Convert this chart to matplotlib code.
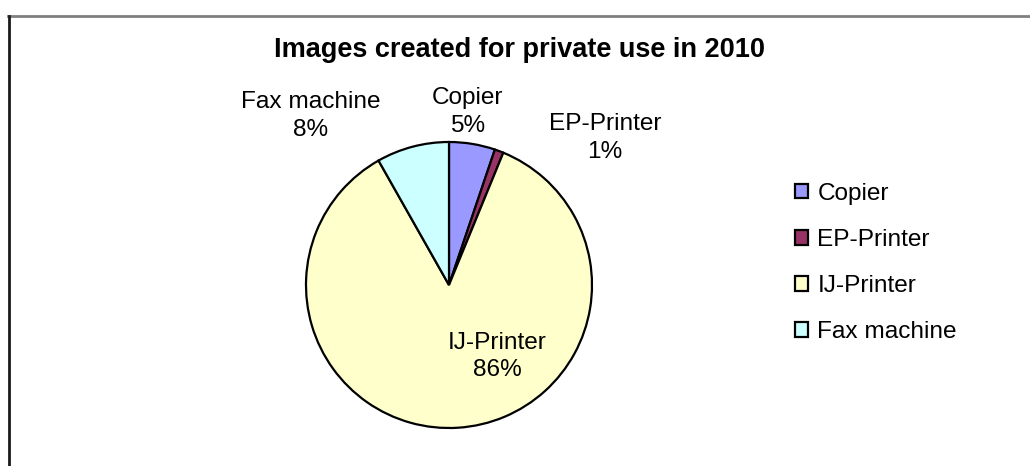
import matplotlib.pyplot as plt
from matplotlib.lines import Line2D

plt.rcParams['font.family'] = ['Liberation Sans', 'DejaVu Sans']

# data
categories = ['Copier', 'EP-Printer', 'IJ-Printer', 'Fax machine']
shares = [5.2, 1.0, 85.6, 8.2]
colors = ['#9999FF', '#993366', '#FFFFCC', '#CCFFFF']
title = 'Images created for private use in 2010'

# label spots (pie units, centre 0,0 radius 1), Excel-like placement
label_pos = [(0.13, 1.21), (1.09, 1.03), (0.34, -0.50), (-0.97, 1.18)]

W, H = 1030, 466
fig = plt.figure(figsize=(W / 100, H / 100), dpi=100)

# pie axes: centre at (449, 285) px, radius 143 px
cx, cy, r = 449, 285, 143
lim = 1.6
side = 2 * lim * r
ax = fig.add_axes([(cx - side / 2) / W, (H - cy - side / 2) / H, side / W, side / H])

wedges, _ = ax.pie(shares, colors=colors, startangle=90, counterclock=False,
                   wedgeprops=dict(edgecolor='black', linewidth=1.6))
ax.set_xlim(-lim, lim)
ax.set_ylim(-lim, lim)
ax.set_aspect('equal')
ax.axis('off')

total = sum(shares)
for name, val, (lx, ly) in zip(categories, shares, label_pos):
    ax.text(lx, ly, '%s\n%.0f%%' % (name, val / total * 100),
            ha='center', va='center', multialignment='center',
            fontsize=17.6, color='black', linespacing=1.35)

fig.text(520 / W, 1 - 57 / H, title, ha='center', va='baseline',
         fontsize=19.5, fontweight='bold')

fig.legend(wedges, categories, loc='center left',
           bbox_to_anchor=(795 / W, 1 - 263 / H), frameon=False,
           fontsize=17.6, handlelength=0.55, handleheight=0.55,
           handletextpad=0.37, labelspacing=0.99,
           borderpad=0, borderaxespad=0)

# chart area border (top gray, left dark)
fig.add_artist(Line2D([8 / W, 1], [1 - 15.5 / H, 1 - 15.5 / H],
                      transform=fig.transFigure, color='#808080', linewidth=2))
fig.add_artist(Line2D([8.5 / W, 8.5 / W], [0, 1 - 15.5 / H],
                      transform=fig.transFigure, color='#1a1a1a', linewidth=2))

fig.savefig('out.png', dpi=100)
